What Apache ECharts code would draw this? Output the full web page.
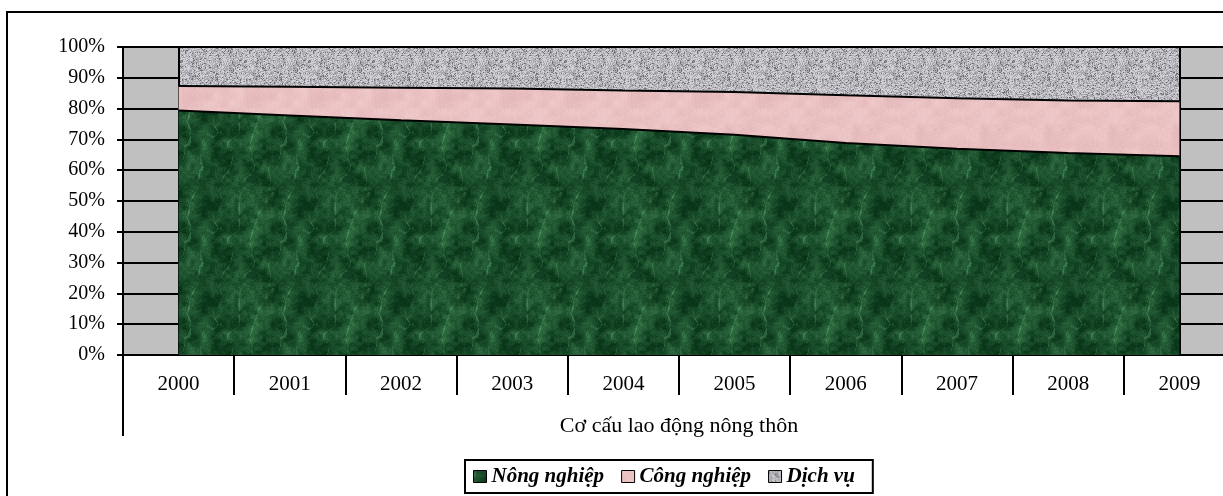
<!DOCTYPE html>
<html>
<head>
<meta charset="utf-8">
<script src="https://cdn.jsdelivr.net/npm/echarts@6/dist/echarts.min.js"></script>
<style>
  html, body { margin: 0; padding: 0; background: #fff; }
  #chart { width: 1223px; height: 496px; }
</style>
</head>
<body>
<div id="chart"></div>
<script>
// Rural labour structure by sector, share of total (%)
const years = ['2000', '2001', '2002', '2003', '2004', '2005', '2006', '2007', '2008', '2009'];
const groupLabel = ['Cơ cấu lao động nông thôn'];
const seriesNames = ['Nông nghiệp', 'Công nghiệp', 'Dịch vụ'];
const nongNghiep = [79.4, 77.8, 76.2, 74.8, 73.4, 71.5, 68.8, 67.0, 65.6, 64.5];
const congNghiep = [7.9, 9.3, 10.6, 11.7, 12.5, 13.9, 15.5, 16.4, 17.0, 17.9];
const dichVu = [12.7, 12.9, 13.2, 13.5, 14.1, 14.6, 15.7, 16.6, 17.4, 17.6];

// deterministic hash for the fill textures
function hash(x, y, s) {
  let h = (x * 374761393 + y * 668265263 + s * 982451653) | 0;
  h = Math.imul(h ^ (h >>> 13), 1274126177);
  h = h ^ (h >>> 16);
  return (h >>> 0) / 4294967295;
}
function valueNoise(x, y, cell, size, s) {
  const n = size / cell;
  const gx = Math.floor(x / cell), gy = Math.floor(y / cell);
  const fx = (x % cell) / cell, fy = (y % cell) / cell;
  const a = hash(gx % n, gy % n, s), b = hash((gx + 1) % n, gy % n, s);
  const c = hash(gx % n, (gy + 1) % n, s), d = hash((gx + 1) % n, (gy + 1) % n, s);
  const sx = fx * fx * (3 - 2 * fx), sy = fy * fy * (3 - 2 * fy);
  return (a * (1 - sx) + b * sx) * (1 - sy) + (c * (1 - sx) + d * sx) * sy;
}
function makeTexture(size, pixel) {
  const cv = document.createElement('canvas');
  cv.width = size; cv.height = size;
  const ctx = cv.getContext('2d');
  const img = ctx.createImageData(size, size);
  for (let y = 0; y < size; y++) {
    for (let x = 0; x < size; x++) {
      const c = pixel(x, y);
      const i = (y * size + x) * 4;
      img.data[i] = c[0]; img.data[i + 1] = c[1]; img.data[i + 2] = c[2]; img.data[i + 3] = 255;
    }
  }
  ctx.putImageData(img, 0, 0);
  return cv;
}
function mix(a, b, t) {
  t = Math.max(0, Math.min(1, t));
  return [a[0] + (b[0] - a[0]) * t, a[1] + (b[1] - a[1]) * t, a[2] + (b[2] - a[2]) * t];
}

// green marble
const greenTex = makeTexture(96, (x, y) => {
  const n1 = valueNoise(x, y, 12, 96, 1);
  const n2 = valueNoise(x, y, 4, 96, 2);
  const n3 = hash(x, y, 3);
  const streak = Math.abs(((x + y * 0.28 + n1 * 14) % 24) - 12) < 0.8 ? 0.4 * n2 : 0;
  const t = n1 * 0.5 + n2 * 0.3 + n3 * 0.2 + streak - 0.25;
  return mix([8, 52, 24], [76, 148, 96], t);
});
// pink paper
const pinkTex = makeTexture(64, (x, y) => {
  const n = valueNoise(x, y, 8, 64, 4) * 0.6 + hash(x, y, 5) * 0.4;
  return mix([226, 180, 182], [242, 206, 206], n);
});
// grey granite
const greyTex = makeTexture(64, (x, y) => {
  const v = hash(x, y, 6) * 0.7 + valueNoise(x, y, 2, 64, 7) * 0.3;
  if (v < 0.22) return [112, 112, 118];
  if (v < 0.55) return [168, 168, 174];
  return [208, 208, 212];
});
const patterns = [
  { image: greenTex, repeat: 'repeat' },
  { image: pinkTex, repeat: 'repeat' },
  { image: greyTex, repeat: 'repeat' }
];
const solid = ['#1d5a33', '#ecc4c4', '#b6b6ba'];

const FONT = '"Liberation Serif", "Times New Roman", serif';
const values = [nongNghiep, congNghiep, dichVu];

const series = seriesNames.map((name, k) => ({
  name: name,
  type: 'line',
  stack: 'total',
  symbol: 'none',
  smooth: false,
  z: 6 - k,
  data: values[k],
  itemStyle: { color: solid[k] },
  lineStyle: { color: '#000', width: 2 },
  areaStyle: { color: patterns[k], opacity: 1 },
  emphasis: { disabled: true },
  markLine: k === 0 ? {
    silent: true,
    symbol: 'none',
    label: { show: false },
    lineStyle: { color: '#000', width: 2, type: 'solid' },
    data: [{ xAxis: years[0] }, { xAxis: years[years.length - 1] }]
  } : undefined
}));

const chart = echarts.init(document.getElementById('chart'), null, { renderer: 'canvas' });
chart.setOption({
  animation: false,
  backgroundColor: '#fff',
  grid: {
    left: 123, top: 47, width: 1112, height: 308,
    outerBoundsMode: 'none',
    containLabel: false,
    show: true, backgroundColor: '#c0c0c0', borderWidth: 0
  },
  legend: {
    left: 465, top: 460,
    icon: 'rect',
    itemWidth: 13, itemHeight: 12, itemGap: 17,
    padding: [6, 18, 6, 8],
    borderColor: '#000', borderWidth: 2,
    backgroundColor: '#fff',
    selectedMode: false,
    textStyle: { fontFamily: FONT, fontSize: 21, fontWeight: 'bold', fontStyle: 'italic', color: '#000' },
    data: seriesNames.map((name, k) => ({
      name: name,
      itemStyle: { color: patterns[k], borderColor: '#000', borderWidth: 1 }
    }))
  },
  xAxis: [
    {
      type: 'category',
      data: years,
      boundaryGap: true,
      axisLine: { show: true, lineStyle: { color: '#000', width: 2 } },
      axisTick: { show: true, interval: 0, length: 40, lineStyle: { color: '#000', width: 2 } },
      axisLabel: { interval: 0, margin: 19, fontFamily: FONT, fontSize: 21, color: '#000' },
      splitLine: { show: false }
    },
    {
      type: 'category',
      data: groupLabel,
      position: 'bottom',
      offset: 40,
      boundaryGap: true,
      axisLine: { show: false },
      axisTick: { show: true, length: 41, lineStyle: { color: '#000', width: 2 } },
      axisLabel: { margin: 20, fontFamily: FONT, fontSize: 22, color: '#000' },
      splitLine: { show: false }
    }
  ],
  yAxis: {
    type: 'value',
    min: 0, max: 100, interval: 10,
    axisLine: { show: true, lineStyle: { color: '#000', width: 2 } },
    axisTick: { show: true, length: 6, lineStyle: { color: '#000', width: 2 } },
    axisLabel: { formatter: '{value}%', margin: 18, fontFamily: FONT, fontSize: 20, color: '#000' },
    splitLine: { show: true, lineStyle: { color: '#000', width: 2 } }
  },
  graphic: [{
    type: 'rect',
    silent: true,
    z: 100,
    shape: { x: 7, y: 12, width: 1400, height: 700 },
    style: { fill: 'none', stroke: '#000', lineWidth: 2 }
  }],
  series: series
});
</script>
</body>
</html>
